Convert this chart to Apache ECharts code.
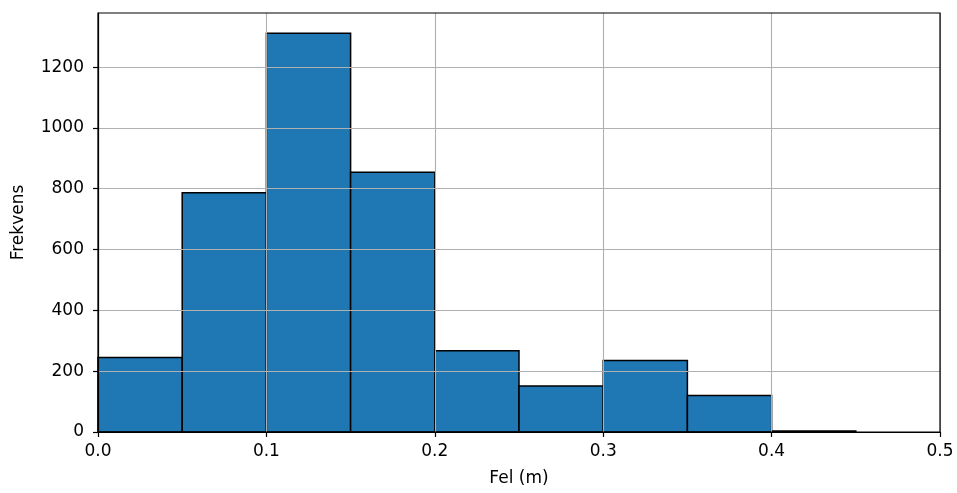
<!DOCTYPE html>
<html>
<head>
<meta charset="utf-8">
<script src="https://cdn.jsdelivr.net/npm/echarts@6/dist/echarts.min.js"></script>
<style>html,body{margin:0;padding:0;background:#fff;}#c{width:957px;height:493px;}</style>
</head>
<body>
<div id="c"></div>
<script>
const binStarts = [0.00, 0.05, 0.10, 0.15, 0.20, 0.25, 0.30, 0.35, 0.40, 0.45];
const binEnds   = [0.05, 0.10, 0.15, 0.20, 0.25, 0.30, 0.35, 0.40, 0.45, 0.50];
const counts    = [245, 787, 1311, 854, 267, 151, 235, 120, 3, 0];
const xTicks = [0, 0.1, 0.2, 0.3, 0.4, 0.5];
const yTicks = [0, 200, 400, 600, 800, 1000, 1200];

const data = binStarts.map((s, i) => [s, binEnds[i], counts[i]]);
const font = 'DejaVu Sans';
const fs = 17;
const chart = echarts.init(document.getElementById('c'), null, {renderer: 'canvas'});
chart.setOption({
  animation: false,
  backgroundColor: '#fff',
  grid: {left: 98, right: 17, top: 13, bottom: 61, show: true, borderColor: '#000', borderWidth: 1.2, backgroundColor: 'transparent', z: 5},
  xAxis: {
    type: 'value', min: 0, max: 0.5, interval: 0.1, z: 4,
    name: 'Fel (m)', nameLocation: 'middle', nameGap: 38,
    nameTextStyle: {fontFamily: font, fontSize: fs, color: '#000'},
    axisLine: {show: true, onZero: false, lineStyle: {color: '#000', width: 1.2}},
    axisTick: {show: true, length: 5, lineStyle: {color: '#000', width: 1.2}, customValues: xTicks},
    axisLabel: {fontFamily: font, fontSize: fs, color: '#000', margin: 11, customValues: xTicks,
      formatter: v => v.toFixed(1)},
    splitLine: {show: true, lineStyle: {color: '#b0b0b0', width: 1.1}}
  },
  yAxis: {
    type: 'value', min: 0, max: 1378, interval: 200, z: 4,
    name: 'Frekvens', nameLocation: 'middle', nameGap: 71, nameRotate: 90,
    nameTextStyle: {fontFamily: font, fontSize: fs, color: '#000'},
    axisLine: {show: true, lineStyle: {color: '#000', width: 1.2}},
    axisTick: {show: true, length: 5, lineStyle: {color: '#000', width: 1.2}, customValues: yTicks},
    axisLabel: {fontFamily: font, fontSize: fs, color: '#000', margin: 14, customValues: yTicks,
      formatter: v => String(v)},
    splitLine: {show: true, lineStyle: {color: '#b0b0b0', width: 1.1}}
  },
  series: [{
    type: 'custom', z: 2,
    data: data,
    encode: {x: [0, 1], y: 2},
    renderItem: function (params, api) {
      if (api.value(2) <= 0) return null;
      const p0 = api.coord([api.value(0), 0]);
      const p1 = api.coord([api.value(1), api.value(2)]);
      return {
        type: 'rect',
        shape: {x: p0[0], y: p1[1], width: p1[0] - p0[0], height: p0[1] - p1[1]},
        style: {fill: '#1f77b4', stroke: '#000', lineWidth: 1.5}
      };
    }
  }]
});
</script>
</body>
</html>
